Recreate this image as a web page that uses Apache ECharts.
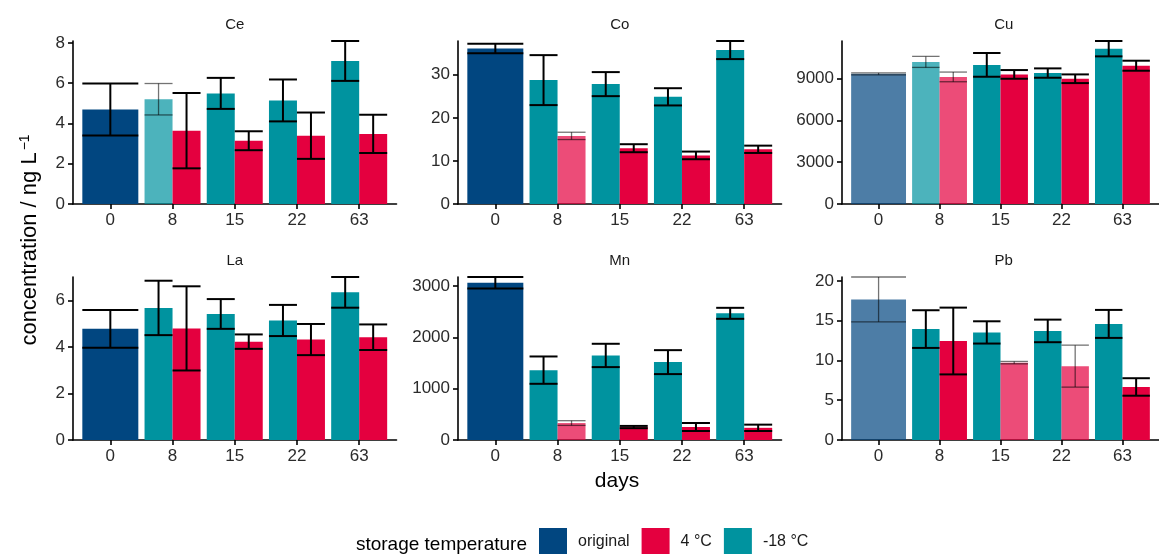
<!DOCTYPE html>
<html>
<head>
<meta charset="utf-8">
<script src="https://cdn.jsdelivr.net/npm/echarts@6/dist/echarts.min.js"></script>
<style>
  html, body { margin: 0; padding: 0; background: #ffffff; }
  #chart { width: 1159px; height: 554px; }
</style>
</head>
<body>
<div id="chart"></div>
<script>
// Trace-element concentrations over storage time, one panel per element
const elements = ['Ce', 'Co', 'Cu', 'La', 'Mn', 'Pb'];
const days = ['0', '8', '15', '22', '63'];

// day 0 (original sample): mean and standard deviation, ng/L
const originalMean = [4.69, 36.1, 9350, 4.78, 3060, 17.68];
const originalSd   = [1.29, 1.08, 70, 0.81, 113, 2.82];

// -18 °C storage, days 8, 15, 22, 63
const frozenMean = [
  [5.20, 5.49, 5.14, 7.10],
  [28.76, 27.83, 24.88, 35.74],
  [10210, 9995, 9407, 11159],
  [5.68, 5.42, 5.14, 6.35],
  [1360, 1646, 1516, 2466],
  [13.95, 13.53, 13.72, 14.60]
];
const frozenSd = [
  [0.78, 0.77, 1.04, 0.99],
  [5.80, 2.79, 2.00, 2.10],
  [396, 852, 336, 552],
  [1.17, 0.64, 0.67, 0.66],
  [266, 227, 233, 107],
  [2.37, 1.40, 1.42, 1.76]
];

// 4 °C storage, days 8, 15, 22, 63
const cooledMean = [
  [3.64, 3.14, 3.39, 3.48],
  [15.81, 12.95, 11.28, 12.70],
  [9131, 9311, 8999, 9935],
  [4.80, 4.23, 4.32, 4.42],
  [330, 252, 253, 237],
  [12.45, 9.73, 9.29, 6.67]
];
const cooledSd = [
  [1.87, 0.47, 1.15, 0.95],
  [0.85, 0.93, 0.89, 0.85],
  [348, 312, 312, 360],
  [1.81, 0.31, 0.67, 0.55],
  [46, 22, 78, 62],
  [4.20, 0.15, 2.64, 1.10]
];

// bars drawn semi-transparent: [element, treatment, day]
const fadedBars = [
  ['Ce', '-18 °C', '8'],
  ['Co', '4 °C', '8'],
  ['Cu', 'original', '0'],
  ['Cu', '-18 °C', '8'],
  ['Cu', '4 °C', '8'],
  ['Mn', '4 °C', '8'],
  ['Pb', 'original', '0'],
  ['Pb', '4 °C', '15'],
  ['Pb', '4 °C', '22']
];

// y-axis tick labels per panel
const yTicks = [
  [0, 2, 4, 6, 8],
  [0, 10, 20, 30],
  [0, 3000, 6000, 9000],
  [0, 2, 4, 6],
  [0, 1000, 2000, 3000],
  [0, 5, 10, 15, 20]
];

const treatments = ['original', '4 °C', '-18 °C'];
const colors = { 'original': '#014680', '4 °C': '#E4003F', '-18 °C': '#00939F' };

const FONT = '"Liberation Sans", Arial, Helvetica, sans-serif';
const chart = echarts.init(document.getElementById('chart'), null, { renderer: 'canvas' });

const lefts = [73, 458, 842];
const tops = [41, 277];
const gridW = 323.5, gridH = 163;

function isFaded(el, tr, day) {
  return fadedBars.some(f => f[0] === el && f[1] === tr && f[2] === day) ? 1 : 0;
}

// dodge layout: total width 0.9 per day, two bars share it
const dodge = { 'original': [0, 0.45], '-18 °C': [-0.225, 0.225], '4 °C': [0.225, 0.225] };

function makeRender(tr) {
  return function (params, api) {
    const x = api.value(0), m = api.value(1), s = api.value(2), faded = api.value(3);
    const off = dodge[tr][0], hw = dodge[tr][1];
    const tl = api.coord([x + off - hw, m]);
    const br = api.coord([x + off + hw, 0]);
    const cx = api.coord([x + off, m])[0];
    const hiY = api.coord([x, m + s])[1];
    const loY = api.coord([x, m - s])[1];
    const barOpacity = faded ? 0.7 : 1;
    const errStroke = faded ? 'rgba(0,0,0,0.55)' : '#000000';
    const errW = faded ? 1.3 : 2;
    const lineStyle = { stroke: errStroke, lineWidth: errW };
    return {
      type: 'group',
      children: [
        { type: 'rect', z2: 0,
          shape: { x: tl[0], y: tl[1], width: br[0] - tl[0], height: br[1] - tl[1] },
          style: { fill: colors[tr], opacity: barOpacity } },
        { type: 'line', z2: 10, shape: { x1: cx, y1: hiY, x2: cx, y2: loY }, style: lineStyle },
        { type: 'line', z2: 10, shape: { x1: tl[0], y1: hiY, x2: br[0], y2: hiY }, style: lineStyle },
        { type: 'line', z2: 10, shape: { x1: tl[0], y1: loY, x2: br[0], y2: loY }, style: lineStyle }
      ]
    };
  };
}

const grids = [], xAxes = [], yAxes = [], series = [], graphics = [];

elements.forEach((el, i) => {
  const row = Math.floor(i / 3), col = i % 3;
  grids.push({ left: lefts[col], top: tops[row], width: gridW, height: gridH, containLabel: false });

  // panel range follows the tallest error bar
  let yMax = originalMean[i] + originalSd[i];
  for (let d = 0; d < 4; d++) {
    yMax = Math.max(yMax, frozenMean[i][d] + frozenSd[i][d], cooledMean[i][d] + cooledSd[i][d]);
  }

  xAxes.push({
    gridIndex: i, type: 'value', min: -0.6, max: 4.6,
    splitLine: { show: false },
    axisLine: { show: true, lineStyle: { color: '#000', width: 1.6 } },
    axisTick: { show: true, length: 5, customValues: [0, 1, 2, 3, 4], lineStyle: { color: '#000', width: 1.6 } },
    axisLabel: { customValues: [0, 1, 2, 3, 4], formatter: v => days[Math.round(v)],
      fontSize: 17, color: '#2b2b2b', fontFamily: FONT, margin: 8 }
  });
  yAxes.push({
    gridIndex: i, type: 'value', min: 0, max: yMax,
    splitLine: { show: false },
    axisLine: { show: true, onZero: false, lineStyle: { color: '#000', width: 1.6 } },
    axisTick: { show: true, length: 5, customValues: yTicks[i], lineStyle: { color: '#000', width: 1.6 } },
    axisLabel: { customValues: yTicks[i], formatter: v => String(v),
      fontSize: 17, color: '#2b2b2b', fontFamily: FONT, margin: 8 }
  });

  const dataBy = {
    'original': [[0, originalMean[i], originalSd[i], isFaded(el, 'original', '0')]],
    '-18 °C': frozenMean[i].map((v, d) => [d + 1, v, frozenSd[i][d], isFaded(el, '-18 °C', days[d + 1])]),
    '4 °C': cooledMean[i].map((v, d) => [d + 1, v, cooledSd[i][d], isFaded(el, '4 °C', days[d + 1])])
  };
  ['original', '-18 °C', '4 °C'].forEach(tr => {
    series.push({
      type: 'custom', name: tr, xAxisIndex: i, yAxisIndex: i,
      itemStyle: { color: colors[tr] },
      renderItem: makeRender(tr),
      encode: { x: 0, y: 1 },
      data: dataBy[tr],
      silent: true
    });
  });

  graphics.push({
    type: 'text', x: lefts[col] + gridW / 2, y: tops[row] - 16,
    style: { text: el, font: '15px ' + FONT, fill: '#1a1a1a',
      textAlign: 'center', textVerticalAlign: 'middle' }
  });
});

// axis titles and legend title
graphics.push({
  type: 'text', x: 617, y: 481,
  style: { text: 'days', font: '21px ' + FONT, fill: '#000', textAlign: 'center', textVerticalAlign: 'middle' }
});
graphics.push({
  type: 'text', x: 30, y: 240, rotation: Math.PI / 2,
  style: {
    text: '{a|concentration / ng L}{s|−1}',
    textAlign: 'center', textVerticalAlign: 'middle',
    rich: {
      a: { fontSize: 22, fontFamily: FONT, color: '#000' },
      s: { fontSize: 14, fontFamily: FONT, color: '#000', verticalAlign: 'top', padding: [0, 0, 9, 2] }
    }
  }
});
graphics.push({
  type: 'text', x: 527, y: 545,
  style: { text: 'storage temperature', font: '19px ' + FONT, fill: '#000', textAlign: 'right', textVerticalAlign: 'middle' }
});

chart.setOption({
  animation: false,
  backgroundColor: '#ffffff',
  grid: grids,
  xAxis: xAxes,
  yAxis: yAxes,
  series: series,
  graphic: graphics,
  legend: {
    data: treatments, left: 539, top: 528, padding: 0,
    icon: 'rect', itemWidth: 28, itemHeight: 28, itemGap: 12,
    selectedMode: false,
    textStyle: { fontSize: 16, color: '#1a1a1a', fontFamily: FONT, padding: [14, 0, 0, 6] }
  }
});
</script>
</body>
</html>
